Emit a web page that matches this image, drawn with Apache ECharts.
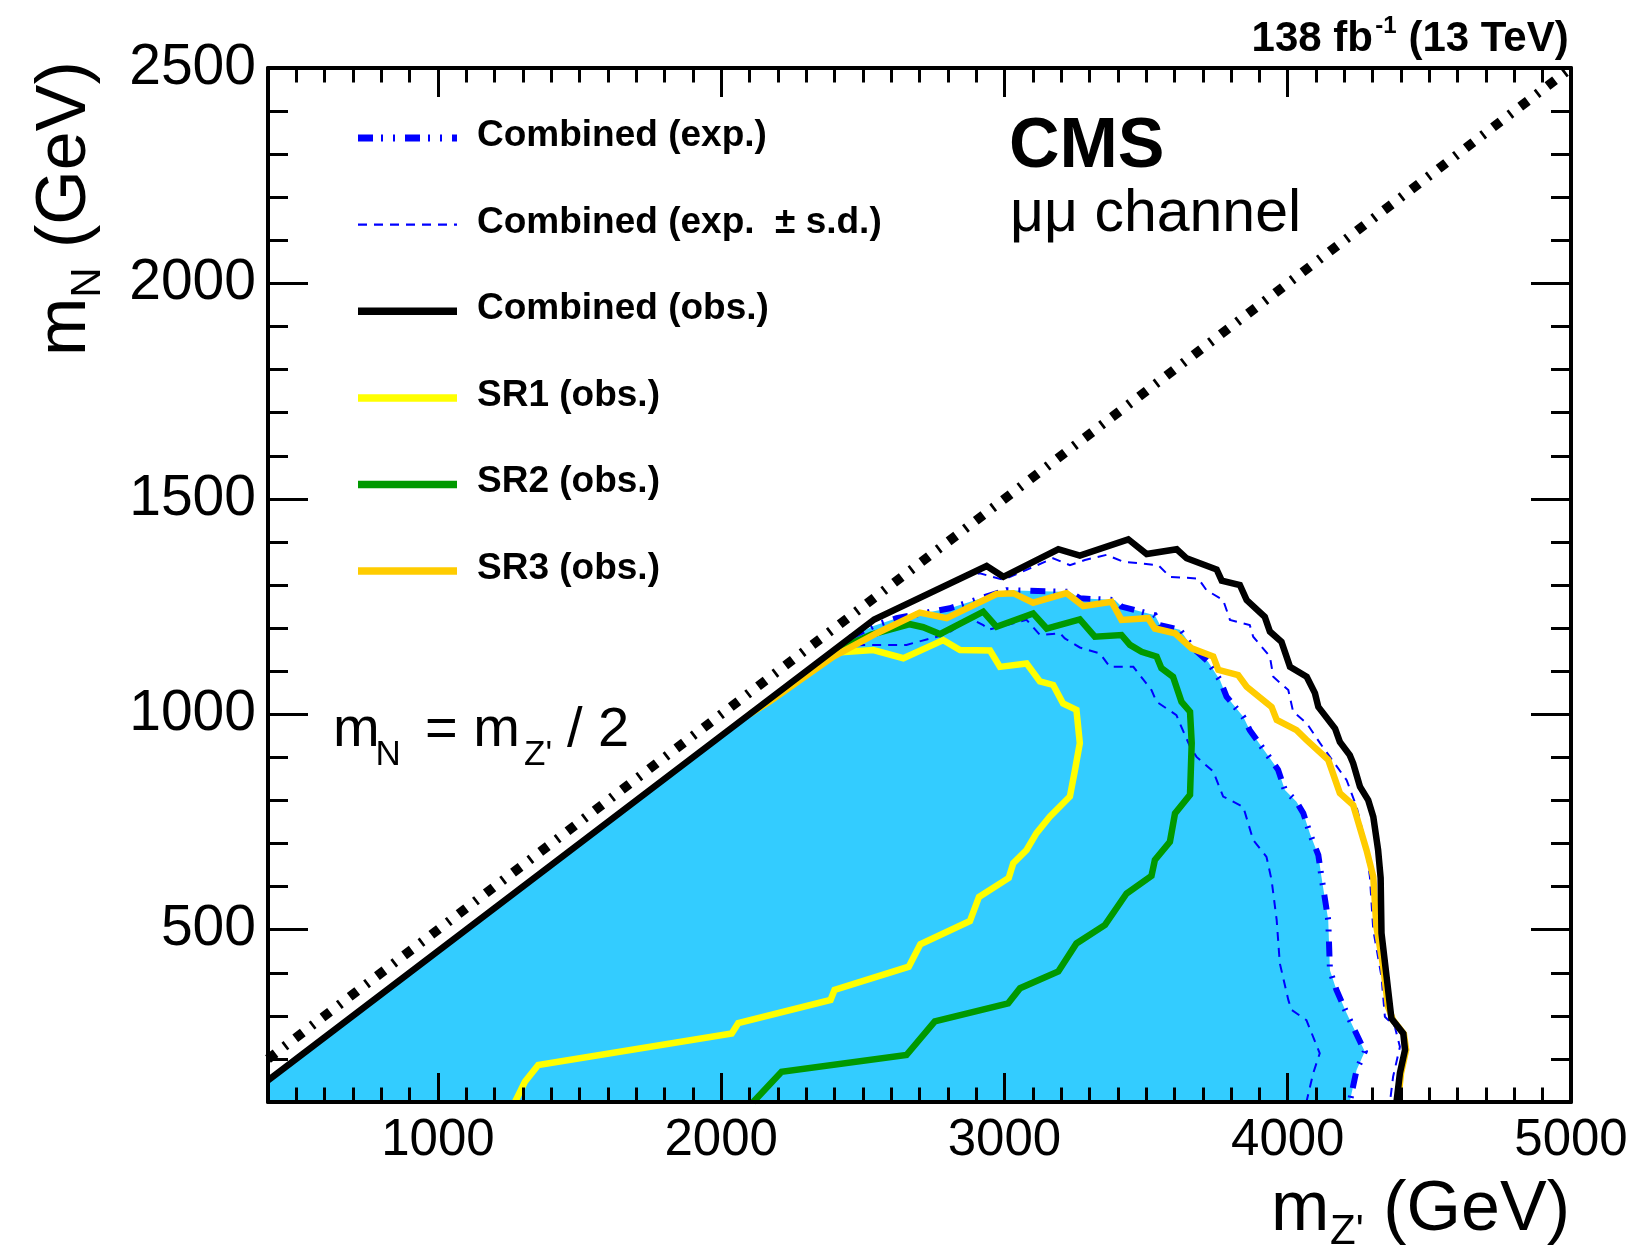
<!DOCTYPE html>
<html>
<head>
<meta charset="utf-8">
<title>CMS mumu channel limits</title>
<script src="https://cdn.jsdelivr.net/npm/echarts@6/dist/echarts.min.js"></script>
<style>
  html, body { margin: 0; padding: 0; background: #fff; }
  #chart { width: 1628px; height: 1246px; }
</style>
</head>
<body>
<div id="chart"></div>
<script>
// ── Axis ranges and ticks (GeV) ──
var xRange = [400, 5000];
var yRange = [100, 2500];
var xMajorTicks = [1000, 2000, 3000, 4000, 5000];
var yMajorTicks = [500, 1000, 1500, 2000, 2500];
var minorStep = 100;

// kinematic boundary m_N = m_Z' / 2
var halfMassLine = [[400, 200], [5000, 2500]];

// contours, points are [m_Z', m_N]
var obsCombined = [
  [400, 150], [2540, 1220], [2937, 1344], [2996, 1319], [3190, 1383], [3266, 1368],
  [3437, 1406], [3502, 1372], [3608, 1383], [3643, 1362], [3749, 1336], [3767, 1310],
  [3831, 1300], [3855, 1265], [3919, 1226], [3937, 1192], [3978, 1168], [4008, 1110],
  [4067, 1087], [4096, 1049], [4108, 1017], [4167, 967], [4184, 936], [4219, 905],
  [4231, 886], [4255, 832], [4284, 801], [4302, 762], [4319, 685], [4328, 620],
  [4331, 492], [4349, 391], [4366, 294], [4408, 259], [4414, 221], [4396, 167], [4384, 100]
];

var expCombined = [
  [2455, 1178], [2537, 1205], [2619, 1223], [2807, 1246], [3007, 1288], [3231, 1284],
  [3266, 1269], [3390, 1265], [3413, 1250], [3531, 1230], [3549, 1207], [3619, 1196],
  [3666, 1153], [3719, 1122], [3761, 1079], [3784, 1041], [3843, 994], [3866, 963],
  [3925, 909], [3966, 871], [3990, 824], [4031, 797], [4055, 770], [4078, 724],
  [4108, 673], [4119, 623], [4143, 522], [4149, 406], [4172, 360], [4208, 306],
  [4272, 217], [4243, 174], [4219, 100]
];

var expPlusSd = [
  [2850, 1318], [2913, 1327], [2996, 1312], [3172, 1362], [3231, 1346], [3284, 1358],
  [3360, 1370], [3419, 1354], [3543, 1346], [3584, 1319], [3684, 1315], [3713, 1288],
  [3772, 1265], [3796, 1219], [3866, 1207], [3878, 1180], [3937, 1134], [3949, 1087],
  [4002, 1056], [4019, 1006], [4067, 979], [4114, 933], [4149, 901], [4208, 847],
  [4243, 785], [4272, 708], [4290, 623], [4302, 499], [4331, 391], [4343, 298],
  [4378, 275], [4396, 228], [4372, 159], [4361, 100]
];

var expMinusSd = [
  [2420, 1158], [2507, 1161], [2654, 1161], [2796, 1186], [2878, 1223], [2925, 1207],
  [2943, 1196], [3007, 1207], [3078, 1219], [3125, 1184], [3196, 1188], [3213, 1176],
  [3266, 1155], [3337, 1141], [3372, 1110], [3455, 1110], [3519, 1056], [3537, 1029],
  [3607, 998], [3619, 979], [3655, 925], [3678, 901], [3737, 867], [3772, 809],
  [3843, 785], [3878, 708], [3925, 669], [3943, 615], [3961, 522], [3972, 422],
  [4002, 337], [4013, 314], [4066, 290], [4113, 213], [4090, 167], [4066, 100]
];

var obsSR1 = [
  [2385, 1142], [2537, 1149], [2643, 1130], [2784, 1172], [2843, 1149], [2949, 1148],
  [2984, 1110], [3078, 1118], [3125, 1076], [3172, 1068], [3207, 1025], [3254, 1010],
  [3266, 933], [3249, 871], [3231, 809], [3160, 762], [3113, 724], [3078, 685],
  [3031, 654], [3015, 620], [2910, 576], [2878, 520], [2703, 466], [2662, 414],
  [2400, 360], [2386, 337], [2060, 283], [2037, 259], [1354, 186], [1307, 147], [1272, 100]
];

var obsSR2 = [
  [2410, 1150], [2530, 1185], [2666, 1209], [2713, 1202], [2772, 1186], [2925, 1238],
  [2972, 1203], [3101, 1234], [3149, 1199], [3266, 1220], [3319, 1180], [3413, 1184],
  [3443, 1161], [3484, 1145], [3537, 1134], [3554, 1107], [3595, 1087], [3625, 1029],
  [3655, 1006], [3661, 933], [3655, 813], [3602, 770], [3584, 704], [3531, 662],
  [3519, 625], [3431, 584], [3355, 511], [3254, 468], [3190, 403], [3055, 364],
  [3013, 329], [2754, 287], [2654, 209], [2213, 170], [2113, 100]
];

var obsSR3 = [
  [2100, 1000], [2172, 1030], [2396, 1134], [2549, 1188], [2701, 1236], [2796, 1223],
  [2972, 1279], [3031, 1281], [3101, 1259], [3219, 1281], [3278, 1251], [3378, 1261],
  [3413, 1219], [3507, 1223], [3531, 1199], [3602, 1188], [3661, 1153], [3737, 1134],
  [3755, 1103], [3825, 1091], [3855, 1064], [3943, 1017], [3961, 987], [4031, 963],
  [4067, 940], [4143, 894], [4184, 817], [4231, 789], [4278, 685], [4302, 623],
  [4313, 507], [4337, 414], [4354, 321], [4372, 290], [4410, 258], [4418, 221],
  [4400, 167], [4389, 100]
];

var legendLabels = [
  "Combined (exp.)",
  "Combined (exp.  \u00b1 s.d.)",
  "Combined (obs.)",
  "SR1 (obs.)",
  "SR2 (obs.)",
  "SR3 (obs.)"
];

(function () {
  "use strict";

  var FONT = "'Liberation Sans', Arial, Helvetica, sans-serif";
  var FILL = "#33ccff";
  var BLUE = "#0000ff";
  var GREEN = "#009900";
  var YELLOW = "#ffff00";
  var ORANGE = "#ffcc00";

  // ROOT style patterns: wide line + short dashes gives bars across the line
  var DASHDOT = [15, 8, 2, 10, 2, 10];
  var DASHED = [9, 7];
  var DIAG_DASH = [9.5, 11, 2.7, 11];

  var chart = echarts.init(document.getElementById("chart"), null, { renderer: "canvas" });

  // filled region: along the kinematic edge up to the expected contour
  var fillPoly = [[xRange[0], yRange[0]], obsCombined[0]].concat(expCombined);

  function plainNumber(v) { return String(v); }

  function contour(name, data, color, width, type, z) {
    return {
      name: name,
      type: "line",
      data: data,
      symbol: "none",
      showSymbol: false,
      clip: true,
      silent: true,
      z: z,
      lineStyle: { color: color, width: width, type: type, join: "miter", cap: "butt" }
    };
  }

  function xAxisDef(pos, major, show) {
    var ax = {
      type: "value",
      position: pos,
      min: xRange[0],
      max: xRange[1],
      z: 10,
      splitLine: { show: false },
      axisLine: { show: show, onZero: false, lineStyle: { color: "#000", width: 4 } },
      axisLabel: { show: false },
      axisTick: { show: true, inside: true, length: major ? 29 : 14.5, lineStyle: { color: "#000", width: 3 } }
    };
    if (major) {
      ax.axisTick.customValues = xMajorTicks;
    } else {
      ax.interval = minorStep;
    }
    return ax;
  }

  function yAxisDef(pos, major, show) {
    var ax = {
      type: "value",
      position: pos,
      min: yRange[0],
      max: yRange[1],
      z: 10,
      splitLine: { show: false },
      axisLine: { show: show, onZero: false, lineStyle: { color: "#000", width: 4 } },
      axisLabel: { show: false },
      axisTick: { show: true, inside: true, length: major ? 40 : 20, lineStyle: { color: "#000", width: 3 } }
    };
    if (major) {
      ax.axisTick.customValues = yMajorTicks;
    } else {
      ax.interval = minorStep;
    }
    return ax;
  }

  var xAxes = [xAxisDef("bottom", true, true), xAxisDef("bottom", false, false),
               xAxisDef("top", true, true), xAxisDef("top", false, false)];
  xAxes[0].axisLabel = {
    show: true, customValues: xMajorTicks, margin: 13, formatter: plainNumber,
    color: "#000", fontSize: 51, fontFamily: FONT
  };

  var yAxes = [yAxisDef("left", true, true), yAxisDef("left", false, false),
               yAxisDef("right", true, true), yAxisDef("right", false, false)];
  yAxes[0].axisLabel = {
    show: true, customValues: yMajorTicks, margin: 12, formatter: plainNumber,
    color: "#000", fontSize: 57, fontFamily: FONT
  };

  // ── Legend (drawn by hand, ROOT layout) ──
  var legendStyles = [
    { stroke: BLUE, lineWidth: 7, lineDash: DASHDOT },
    { stroke: BLUE, lineWidth: 2.2, lineDash: DASHED },
    { stroke: "#000", lineWidth: 7.5 },
    { stroke: YELLOW, lineWidth: 7.5 },
    { stroke: GREEN, lineWidth: 7.5 },
    { stroke: ORANGE, lineWidth: 7.5 }
  ];
  var graphics = [];
  for (var i = 0; i < legendLabels.length; i++) {
    var base = 148.6 + i * 86.6;
    graphics.push({
      type: "line",
      shape: { x1: 358, y1: base - 10.5, x2: 457, y2: base - 10.5 },
      style: legendStyles[i],
      silent: true
    });
    graphics.push({
      type: "text",
      x: 477, y: base - 12.8,
      style: { text: legendLabels[i], fill: "#000", font: "bold 37px " + FONT, verticalAlign: "middle" },
      silent: true
    });
  }

  function label(txt, x, y, size, weight, align) {
    return {
      type: "text", x: x, y: y, silent: true,
      style: {
        text: txt, fill: "#000", font: (weight || "normal") + " " + size + "px " + FONT,
        align: align || "left", verticalAlign: "middle"
      }
    };
  }

  graphics.push(label("CMS", 1009, 148, 70, "bold"));
  graphics.push(label("\u03bc\u03bc channel", 1010, 215, 59));
  graphics.push(label("138 fb", 1373, 39, 42, "bold", "right"));
  graphics.push(label("-1", 1396.5, 26.7, 24, "bold", "right"));
  graphics.push(label("(13 TeV)", 1568.7, 39, 42, "bold", "right"));

  // m_N = m_Z' / 2
  graphics.push(label("m", 333, 731, 56));
  graphics.push(label("N", 375.6, 755.5, 35));
  graphics.push(label("= m", 425, 731, 56));
  graphics.push(label("Z'", 524, 755.5, 35));
  graphics.push(label("/ 2", 567, 731, 56));

  // x axis title
  graphics.push(label("m", 1271, 1210.7, 70));
  graphics.push(label("Z'", 1330, 1232, 42));
  graphics.push(label("(GeV)", 1570, 1210.7, 70, "normal", "right"));

  // y axis title, rotated to read upwards
  graphics.push({
    type: "group", x: 90, y: 353, rotation: Math.PI / 2, silent: true,
    children: [
      label("m", -3, -24.3, 70),
      label("N", 55.3, -1.6, 42),
      label(" (GeV)", 85.6, -24.3, 70)
    ]
  });

  var option = {
    animation: false,
    backgroundColor: "#fff",
    grid: { left: 268, right: 57, top: 68, bottom: 144, containLabel: false, outerBoundsMode: "none" },
    xAxis: xAxes,
    yAxis: yAxes,
    graphic: graphics,
    series: [
      {
        name: "fill",
        type: "custom",
        coordinateSystem: "cartesian2d",
        silent: true,
        z: 1,
        data: [fillPoly[0]],
        renderItem: function (params, api) {
          var pts = [];
          for (var k = 0; k < fillPoly.length; k++) pts.push(api.coord(fillPoly[k]));
          return { type: "polygon", shape: { points: pts }, style: { fill: FILL } };
        }
      },
      contour("Combined (exp. -s.d.)", expMinusSd, BLUE, 2, DASHED, 2),
      contour("Combined (exp. +s.d.)", expPlusSd, BLUE, 2, DASHED, 2),
      contour("Combined (exp.)", expCombined, BLUE, 6, DASHDOT, 2),
      contour("SR1 (obs.)", obsSR1, YELLOW, 6.5, "solid", 3),
      contour("SR2 (obs.)", obsSR2, GREEN, 6.5, "solid", 3),
      contour("SR3 (obs.)", obsSR3, ORANGE, 6.5, "solid", 3),
      contour("Combined (obs.)", obsCombined, "#000", 6.5, "solid", 4),
      contour("mN = mZ'/2", halfMassLine, "#000", 9.5, DIAG_DASH, 5)
    ]
  };

  chart.setOption(option);
})();
</script>
</body>
</html>
